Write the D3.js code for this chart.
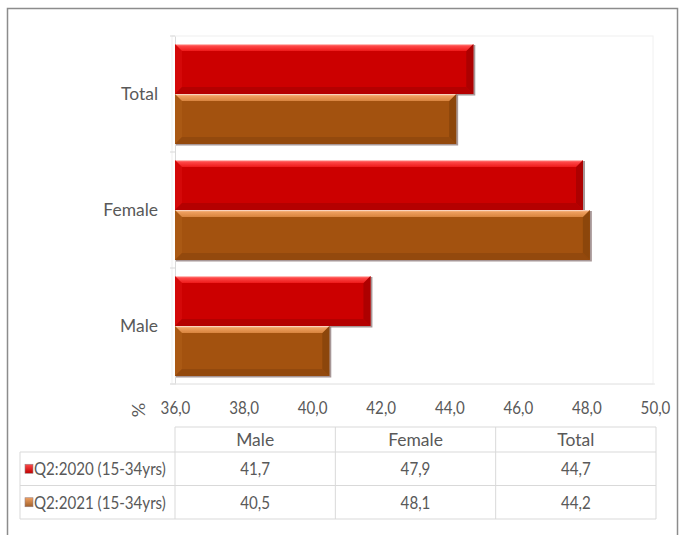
<!DOCTYPE html>
<html>
<head>
<meta charset="utf-8">
<script src="https://cdn.jsdelivr.net/npm/d3@7/dist/d3.min.js"></script>
<style>
  html, body { margin: 0; padding: 0; background: #fff; }
  svg { display: block; }
  text { font-family: Lato, "Open Sans", "Liberation Sans", sans-serif; fill: #595959; }
</style>
</head>
<body>
<svg id="chart" width="683" height="535"></svg>
<script>
// Categories and series (percent, aged 15-34)
const categories = ["Male", "Female", "Total"];
const seriesNames = ["Q2:2020 (15-34yrs)", "Q2:2021 (15-34yrs)"];
const q2020 = [41.7, 47.9, 44.7];
const q2021 = [40.5, 48.1, 44.2];
const xTicks = [36, 38, 40, 42, 44, 46, 48, 50];

const series = [q2020, q2021];
const palettes = [
  { hi: "#ff4a4a", top: "#ee1a1a", main: "#cc0000", left: "#d40808", right: "#ad0000", bottom: "#b40000", swatch: "#c00000" },
  { hi: "#f0a060", top: "#d8843e", main: "#a3520f", left: "#aa5914", right: "#8c460b", bottom: "#93490d", swatch: "#a0602a" }
];

const svg = d3.select("#chart");
const fmt = v => d3.format(".1f")(v).replace(".", ",");

// Narrow the lettering horizontally, keeping its height
function squeeze(sel, k) {
  sel.each(function () {
    const w = this.getComputedTextLength();
    d3.select(this).attr("textLength", w * k).attr("lengthAdjust", "spacingAndGlyphs");
  });
}
const KNUM = 0.84, KWORD = 0.97;

// Outer chart frame
svg.append("rect").attr("x", 7.5).attr("y", 8.5).attr("width", 670).attr("height", 540)
  .attr("fill", "#fff").attr("stroke", "#8c8c8c").attr("stroke-width", 1.5);

const plot = { left: 175, right: 655, top: 36, bottom: 384 };

const x = d3.scaleLinear().domain([36, 50]).range([plot.left, plot.right]);
const y = d3.scaleBand().domain(categories.slice().reverse()).range([plot.top, plot.bottom]);

// Plot area outline
svg.append("rect").attr("x", plot.left - 3).attr("y", plot.top).attr("width", plot.right - plot.left + 1)
  .attr("height", plot.bottom - plot.top).attr("fill", "none").attr("stroke", "#f0f0f0");

// Category axis
const yAxis = svg.append("g").attr("transform", `translate(${plot.left},0)`)
  .call(d3.axisLeft(y).tickSize(0).tickPadding(17));
yAxis.select(".domain").attr("stroke", "#d9d9d9");
yAxis.selectAll("text").style("font-size", "18px").attr("fill", "#595959").call(squeeze, KWORD);
// tick marks between categories
const bounds = [plot.top].concat(y.domain().map(c => y(c) + y.bandwidth()));
svg.append("g").selectAll("line").data(bounds).join("line")
  .attr("x1", plot.left - 5).attr("x2", plot.left).attr("y1", d => d).attr("y2", d => d)
  .attr("stroke", "#d9d9d9");
svg.append("line").attr("x1", plot.left - 5).attr("x2", plot.right).attr("y1", plot.bottom).attr("y2", plot.bottom)
  .attr("stroke", "#e6e6e6");

// Value axis labels
const xAxis = svg.append("g").attr("transform", `translate(0,${plot.bottom})`)
  .call(d3.axisBottom(x).tickValues(xTicks).tickSize(0).tickPadding(17).tickFormat(fmt));
xAxis.select(".domain").remove();
xAxis.selectAll("text").style("font-size", "18px").attr("fill", "#595959").call(squeeze, KNUM);

svg.append("text").attr("transform", "translate(145,410) rotate(-90)")
  .attr("text-anchor", "middle").style("font-size", "18px").text("%");

// Gradients for bar highlights
const defs = svg.append("defs");
palettes.forEach((p, i) => {
  const g = defs.append("linearGradient").attr("id", "top" + i).attr("x1", 0).attr("y1", 0).attr("x2", 0).attr("y2", 1);
  g.append("stop").attr("offset", "0").attr("stop-color", "#ffe6e0");
  g.append("stop").attr("offset", "0.25").attr("stop-color", p.hi);
  g.append("stop").attr("offset", "1").attr("stop-color", p.top);
  const s = defs.append("linearGradient").attr("id", "sw" + i).attr("x1", 0).attr("y1", 0).attr("x2", 0).attr("y2", 1);
  s.append("stop").attr("offset", "0").attr("stop-color", p.hi);
  s.append("stop").attr("offset", "1").attr("stop-color", p.swatch);
});

// Bevelled bars
const barH = 50;
const groupOffset = (y.bandwidth() - 2 * barH) / 2;
const b = 7;
const bars = svg.append("g");
const poly = pts => pts.map(q => q.join(",")).join(" ");
categories.forEach((cat, ci) => {
  series.forEach((vals, si) => {
    const p = palettes[si];
    const x0 = x(36), x1 = x(vals[ci]);
    const y0 = y(cat) + groupOffset + si * barH, y1 = y0 + barH;
    const g = bars.append("g");
    g.append("rect").attr("x", x0 + 1).attr("y", y0 + 1).attr("width", x1 - x0 + 1).attr("height", barH + 0.5)
      .attr("fill", "#8a7474").attr("opacity", 0.75);
    g.append("rect").attr("x", x0).attr("y", y0).attr("width", x1 - x0).attr("height", barH).attr("fill", p.main);
    g.append("polygon").attr("points", poly([[x0, y0], [x0 + b, y0 + b], [x0 + b, y1 - b], [x0, y1]])).attr("fill", p.left);
    g.append("polygon").attr("points", poly([[x0, y1], [x1, y1], [x1 - b, y1 - b], [x0 + b, y1 - b]])).attr("fill", p.bottom);
    g.append("polygon").attr("points", poly([[x1, y0], [x1, y1], [x1 - b, y1 - b], [x1 - b, y0 + b]])).attr("fill", p.right);
    g.append("polygon").attr("points", poly([[x0, y0], [x1, y0], [x1 - b, y0 + b], [x0 + b, y0 + b]])).attr("fill", `url(#top${si})`);
  });
});

// Data table beneath the chart
const table = { left: 20, top: 427, headH: 25, rowH: 33.5 };
const colX = d3.scaleBand().domain(categories).range([plot.left, plot.right + 1]);
const tg = svg.append("g");
const lineC = "#d9d9d9";
const rowsBottom = table.top + table.headH + 2 * table.rowH;
// horizontal rules
tg.append("line").attr("x1", plot.left).attr("x2", plot.right + 1).attr("y1", table.top).attr("y2", table.top).attr("stroke", lineC);
[0, 1, 2].forEach(r => {
  const yy = table.top + table.headH + r * table.rowH;
  tg.append("line").attr("x1", table.left).attr("x2", plot.right + 1).attr("y1", yy).attr("y2", yy).attr("stroke", lineC);
});
// vertical rules
tg.append("line").attr("x1", table.left).attr("x2", table.left).attr("y1", table.top + table.headH).attr("y2", rowsBottom).attr("stroke", lineC);
categories.forEach(c => {
  tg.append("line").attr("x1", colX(c)).attr("x2", colX(c)).attr("y1", table.top).attr("y2", rowsBottom).attr("stroke", lineC);
});
tg.append("line").attr("x1", plot.right + 1).attr("x2", plot.right + 1).attr("y1", table.top).attr("y2", rowsBottom).attr("stroke", lineC);

// header labels
tg.selectAll("text.head").data(categories).join("text").attr("class", "head")
  .attr("x", c => colX(c) + colX.bandwidth() / 2).attr("y", table.top + table.headH / 2 + 6)
  .attr("text-anchor", "middle").style("font-size", "18px").text(c => c).call(squeeze, KWORD);

// series rows
series.forEach((vals, si) => {
  const cy = table.top + table.headH + si * table.rowH + table.rowH / 2;
  tg.append("rect").attr("x", 25).attr("y", cy - 4.5).attr("width", 8).attr("height", 9)
    .attr("fill", `url(#sw${si})`).attr("stroke", "#9a8080").attr("stroke-width", 0.6);
  tg.append("text").attr("x", 34).attr("y", cy + 6.5).style("font-size", "18px").text(seriesNames[si]).call(squeeze, KNUM);
  tg.selectAll(null).data(vals).join("text")
    .attr("x", (v, i) => colX(categories[i]) + colX.bandwidth() / 2).attr("y", cy + 6.5)
    .attr("text-anchor", "middle").style("font-size", "18px").text(v => fmt(v)).call(squeeze, KNUM);
});
</script>
</body>
</html>
